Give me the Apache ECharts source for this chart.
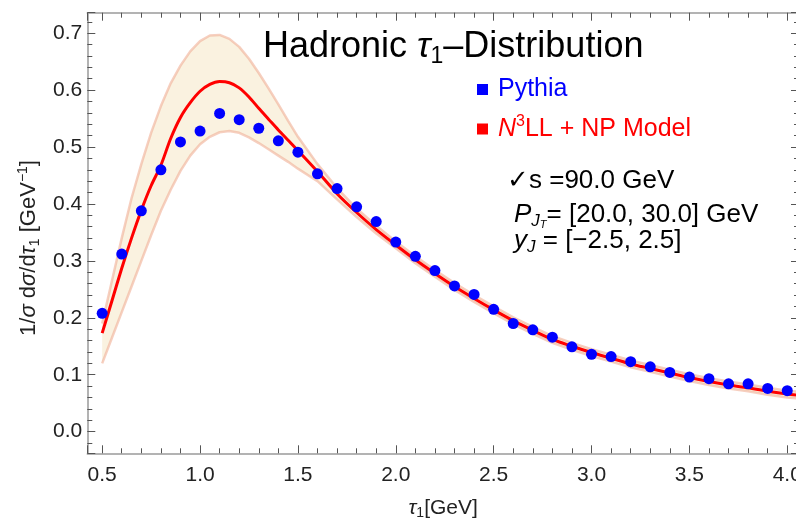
<!DOCTYPE html>
<html><head><meta charset="utf-8">
<script src="https://cdn.jsdelivr.net/npm/echarts@6/dist/echarts.min.js"></script>
<style>html,body{margin:0;padding:0;background:#fff}#c{width:796px;height:521px}</style>
</head><body><div id="c"></div>
<script>
// ---- data ----
const pythiaX = [0.4,0.5,0.6,0.7,0.8,0.9,1.0,1.1,1.2,1.3,1.4,1.5,1.6,1.7,1.8,1.9,2.0,2.1,2.2,2.3,2.4,2.5,2.6,2.7,2.8,2.9,3.0,3.1,3.2,3.3,3.4,3.5,3.6,3.7,3.8,3.9,4.0];
const pythiaY = [0.130,0.208,0.312,0.388,0.460,0.509,0.528,0.559,0.548,0.533,0.511,0.491,0.453,0.427,0.395,0.369,0.333,0.308,0.283,0.256,0.241,0.215,0.190,0.179,0.166,0.149,0.136,0.132,0.123,0.114,0.104,0.096,0.093,0.084,0.084,0.076,0.072];

const modelX = [0.5,0.55,0.6,0.65,0.7,0.75,0.8,0.85,0.9,0.95,1.0,1.05,1.1,1.15,1.2,1.25,1.3,1.35,1.4,1.45,1.5,1.6,1.7,1.8,1.9,2.0,2.1,2.2,2.3,2.4,2.5,2.6,2.7,2.8,2.9,3.0,3.1,3.2,3.3,3.4,3.5,3.6,3.7,3.8,3.9,4.0,4.06];
const modelY = [0.173,0.230,0.287,0.340,0.389,0.432,0.468,0.515,0.552,0.578,0.598,0.610,0.615,0.613,0.604,0.588,0.568,0.549,0.530,0.512,0.494,0.457,0.418,0.385,0.355,0.328,0.302,0.278,0.255,0.234,0.214,0.195,0.178,0.162,0.150,0.139,0.129,0.119,0.111,0.103,0.095,0.088,0.082,0.077,0.071,0.066,0.064];
const bandUpper = [0.190,0.265,0.340,0.410,0.470,0.525,0.572,0.612,0.643,0.668,0.686,0.696,0.697,0.690,0.676,0.655,0.630,0.603,0.575,0.546,0.518,0.470,0.428,0.392,0.362,0.334,0.308,0.284,0.261,0.240,0.220,0.201,0.184,0.168,0.156,0.145,0.135,0.125,0.117,0.109,0.101,0.094,0.088,0.083,0.077,0.072,0.070];
const bandLower = [0.120,0.165,0.210,0.255,0.300,0.345,0.388,0.425,0.458,0.485,0.505,0.518,0.526,0.528,0.525,0.517,0.507,0.496,0.485,0.474,0.462,0.440,0.408,0.377,0.348,0.322,0.296,0.272,0.249,0.228,0.208,0.189,0.172,0.156,0.144,0.133,0.123,0.113,0.105,0.097,0.089,0.082,0.076,0.071,0.065,0.060,0.058];

const xTickLabels = ['0.5','1.0','1.5','2.0','2.5','3.0','3.5','4.0'];
const yTickLabels = ['0.0','0.1','0.2','0.3','0.4','0.5','0.6','0.7'];

// ---- chart ----
const FONT = 'Liberation Sans, Arial, Helvetica, sans-serif';
const zip = (xs, ys) => xs.map((x, i) => [x, ys[i]]);

const chart = echarts.init(document.getElementById('c'), null, {renderer: 'canvas'});

const X_MIN = 0.424, X_MAX = 4.06, Y_MIN = -0.038, Y_MAX = 0.736;
const axisLineStyle = {color: '#9a9a9a', width: 1.5};
const tickStyle = {color: '#555', width: 1};

function xLabel(v) {
  const s = v.toFixed(1);
  return xTickLabels.includes(s) && Math.abs(v - parseFloat(s)) < 1e-6 ? s : '';
}
function yLabel(v) {
  const s = v.toFixed(1);
  return yTickLabels.includes(s) && Math.abs(v - parseFloat(s)) < 1e-6 ? s : '';
}

const baseX = {
  type: 'value', min: X_MIN, max: X_MAX, splitNumber: 7,
  axisLine: {show: true, onZero: false, lineStyle: axisLineStyle},
  axisTick: {show: true, inside: true, length: 8, lineStyle: tickStyle},
  minorTick: {show: true, splitNumber: 5, length: 5, lineStyle: tickStyle},
  splitLine: {show: false}, minorSplitLine: {show: false}
};
const baseY = {
  type: 'value', min: Y_MIN, max: Y_MAX, splitNumber: 8,
  axisLine: {show: true, onZero: false, lineStyle: axisLineStyle},
  axisTick: {show: true, inside: true, length: 8, lineStyle: tickStyle},
  minorTick: {show: true, splitNumber: 5, length: 5, lineStyle: tickStyle},
  splitLine: {show: false}, minorSplitLine: {show: false}
};

const N = {fontWeight: 'normal', fontFamily: FONT};
const xNameRich = {
  a: Object.assign({fontSize: 21, color: '#222', lineHeight: 24}, N),
  i: Object.assign({fontSize: 21, color: '#222', fontStyle: 'italic', lineHeight: 24}, N),
  s: Object.assign({fontSize: 14, color: '#222', lineHeight: 14, verticalAlign: 'bottom'}, N)
};
const yNameRich = {
  a: Object.assign({fontSize: 22, color: '#222', lineHeight: 26}, N),
  i: Object.assign({fontSize: 22, color: '#222', fontStyle: 'italic', lineHeight: 26}, N),
  s: Object.assign({fontSize: 14, color: '#222', lineHeight: 15, verticalAlign: 'bottom'}, N),
  p: Object.assign({fontSize: 14, color: '#222', lineHeight: 15, verticalAlign: 'top'}, N)
};

const annRich = {
  a: Object.assign({fontSize: 26, color: '#000', lineHeight: 30}, N),
  i: Object.assign({fontSize: 26, color: '#000', fontStyle: 'italic', lineHeight: 30}, N),
  s: Object.assign({fontSize: 17, color: '#000', fontStyle: 'italic', lineHeight: 18, verticalAlign: 'bottom'}, N),
  ss: Object.assign({fontSize: 11, color: '#000', fontStyle: 'italic', lineHeight: 8, verticalAlign: 'bottom'}, N)
};

function renderBand(params, api) {
  if (params.dataIndex !== 0) return null;
  const n = params.dataInsideLength;
  const top = [], bot = [];
  for (let i = 0; i < n; i++) {
    top.push(api.coord([api.value(0, i), api.value(2, i)]));
    bot.push(api.coord([api.value(0, i), api.value(1, i)]));
  }
  const pts = top.concat(bot.reverse());
  return {
    type: 'polygon',
    shape: {points: pts},
    style: {fill: '#faf2e0', stroke: null},
    silent: true
  };
}

const option = {
  animation: false,
  backgroundColor: '#fff',
  grid: {left: 87.3, right: -3, top: 12.7, bottom: 67.7, containLabel: false, outerBoundsMode: 'none'},
  title: [
    {
      text: '{a|Hadronic }{t|τ}{s|1}{a|–Distribution}',
      left: 263, top: 26, padding: 0,
      textStyle: {fontWeight: 'normal', rich: {
        a: Object.assign({fontSize: 36, color: '#000', lineHeight: 42}, N),
        t: Object.assign({fontSize: 36, color: '#000', fontStyle: 'italic', lineHeight: 42}, N),
        s: Object.assign({fontSize: 23, color: '#000', lineHeight: 27, verticalAlign: 'bottom'}, N)
      }}
    },
    {
      text: '{a|✓s =90.0 GeV}',
      left: 507, top: 166, padding: 0,
      textStyle: {fontWeight: 'normal', rich: annRich}
    },
    {
      text: '{i|P}{s|J}{ss|T}{a|= [20.0, 30.0] GeV}',
      left: 514, top: 200, padding: 0,
      textStyle: {fontWeight: 'normal', rich: annRich}
    },
    {
      text: '{i|y}{s|J}{a| = [−2.5, 2.5]}',
      left: 514, top: 226, padding: 0,
      textStyle: {fontWeight: 'normal', rich: annRich}
    }
  ],
  legend: {
    orient: 'vertical', left: 477, top: 77, padding: 0,
    itemWidth: 11, itemHeight: 11, itemGap: 12,
    selectedMode: false,
    data: [
      {name: 'Pythia', icon: 'rect', itemStyle: {color: '#0000ff'}},
      {name: 'N3LL + NP Model', icon: 'rect', itemStyle: {color: '#ff0000'}}
    ],
    formatter: function (name) {
      if (name === 'Pythia') return '{b|Pythia}';
      return '{ri|N}{rs|3}{r|LL + NP Model}';
    },
    textStyle: {rich: {
      b: Object.assign({fontSize: 25, color: '#0000ff', lineHeight: 30, padding: [0, 0, 0, 5]}, N),
      ri: Object.assign({fontSize: 25, color: '#ff0000', fontStyle: 'italic', lineHeight: 30, padding: [0, 0, 0, 5]}, N),
      rs: Object.assign({fontSize: 16, color: '#ff0000', lineHeight: 18, verticalAlign: 'top'}, N),
      r: Object.assign({fontSize: 25, color: '#ff0000', lineHeight: 30}, N)
    }}
  },
  xAxis: [
    Object.assign({}, baseX, {
      position: 'bottom',
      axisLabel: {show: true, formatter: xLabel, showMinLabel: false, showMaxLabel: false,
        fontSize: 21, fontFamily: FONT, color: '#222', margin: 11},
      name: '{i|τ}{s|1}{a|[GeV]}', nameLocation: 'middle', nameGap: 43,
      nameTextStyle: {rich: xNameRich}
    }),
    Object.assign({}, baseX, {position: 'top', axisLabel: {show: false}})
  ],
  yAxis: [
    Object.assign({}, baseY, {
      position: 'left',
      axisLabel: {show: true, formatter: yLabel, showMinLabel: false, showMaxLabel: false,
        fontSize: 21, fontFamily: FONT, color: '#222', margin: 5},
      name: '{a|1/}{i|σ}{a| d}{i|σ}{a|/d}{i|τ}{s|1}{a| [GeV}{p|−1}{a|]}',
      nameLocation: 'middle', nameRotate: 90, nameGap: 43,
      nameTextStyle: {rich: yNameRich, padding: [0, 30, 0, 0]}
    }),
    Object.assign({}, baseY, {position: 'right', axisLabel: {show: false}})
  ],
  series: [
    {
      name: 'band', type: 'custom', clip: true, silent: true, z: 1,
      data: modelX.map((x, i) => [x, bandLower[i], bandUpper[i]]),
      encode: {x: 0, y: [1, 2]},
      renderItem: renderBand
    },
    {
      name: 'bandUpperEdge', type: 'line', data: zip(modelX, bandUpper), showSymbol: false, smooth: false,
      lineStyle: {color: 'rgba(240,175,150,0.6)', width: 2.5}, silent: true, z: 2
    },
    {
      name: 'bandLowerEdge', type: 'line', data: zip(modelX, bandLower), showSymbol: false, smooth: false,
      lineStyle: {color: 'rgba(240,175,150,0.6)', width: 2.5}, silent: true, z: 2
    },
    {
      name: 'N3LL + NP Model', type: 'line', data: zip(modelX, modelY), showSymbol: false, smooth: 0.3,
      color: '#ff0000', lineStyle: {color: '#ff0000', width: 3}, z: 3
    },
    {
      name: 'Pythia', type: 'scatter', data: zip(pythiaX, pythiaY), symbol: 'circle', symbolSize: 11,
      color: '#0000ff', itemStyle: {color: '#0000ff', opacity: 1}, z: 4
    }
  ]
};
chart.setOption(option);
</script>
</body></html>
